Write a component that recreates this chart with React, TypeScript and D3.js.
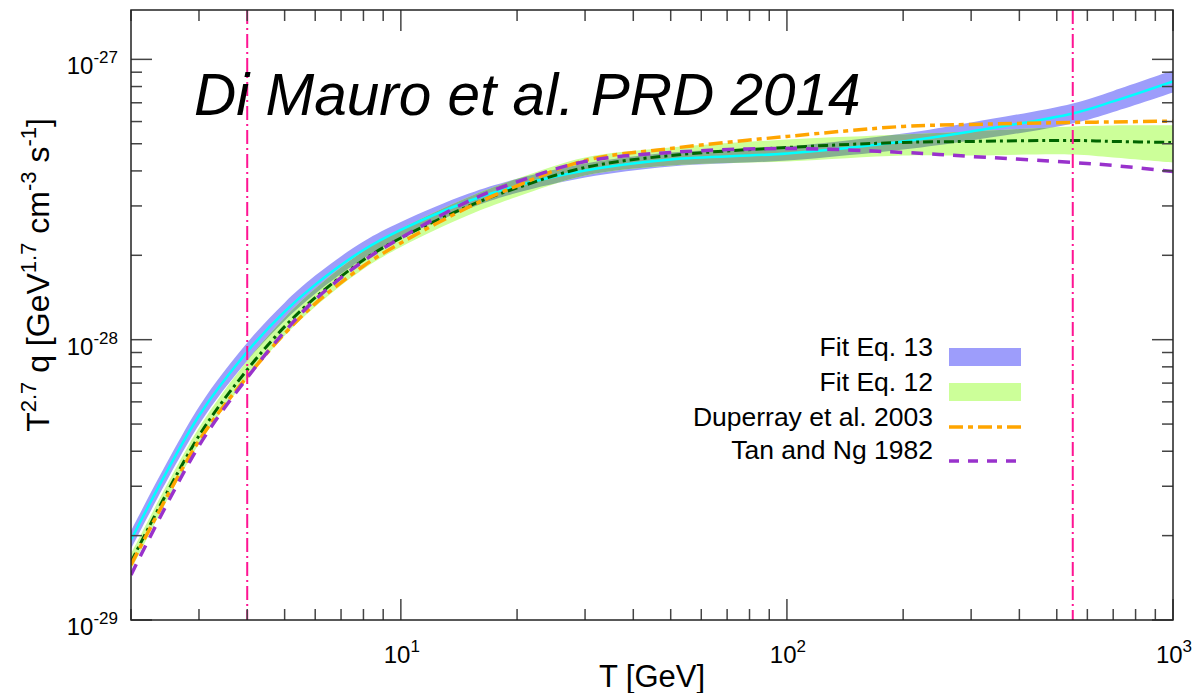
import React from "react";
import * as d3 from "d3";

// Energy grid (GeV)
const T = [2, 3, 4, 5, 6, 8, 10, 15, 20, 30, 50, 100, 200, 300, 550, 700, 1000];
// Values in units of 1e-28 GeV^1.7 cm^-3 s^-1
const UNIT = 1e-28;
const fit13Center = [0.1931, 0.5354, 0.9061, 1.2589, 1.5718, 2.0893, 2.4627, 3.1234, 3.539, 4.0141, 4.394, 4.6162, 5.0951, 5.5318, 6.4143, 7.0795, 8.345];
const fit13Upper = [0.208, 0.5766, 0.9758, 1.3557, 1.6927, 2.2406, 2.6302, 3.3221, 3.7489, 4.2521, 4.6546, 4.8899, 5.4416, 5.9572, 6.964, 7.7181, 9.1353];
const fit13Lower = [0.1793, 0.4972, 0.8414, 1.169, 1.4596, 1.9483, 2.3059, 2.9366, 3.3409, 3.7894, 4.148, 4.3578, 4.7707, 5.1368, 5.908, 6.4938, 7.6231];
const fit12Center = [0.1611, 0.4541, 0.7814, 1.1129, 1.4125, 1.9244, 2.306, 2.9978, 3.4816, 4.1142, 4.541, 4.8496, 5.0535, 5.0951, 5.1372, 5.0951, 5.0535];
const fit12Upper = [0.1721, 0.485, 0.8415, 1.1985, 1.5211, 2.0724, 2.4833, 3.2283, 3.7493, 4.4668, 4.8496, 5.1793, 5.3968, 5.5318, 5.7638, 5.8114, 5.8114];
const fit12Lower = [0.1509, 0.4252, 0.7256, 1.0334, 1.3116, 1.787, 2.1413, 2.7837, 3.233, 3.8521, 4.1825, 4.3221, 4.541, 4.541, 4.5782, 4.4668, 4.2868];
const duperray = [0.1572, 0.4358, 0.7377, 1.0506, 1.3445, 1.8317, 2.2131, 2.9731, 3.539, 4.358, 4.8099, 5.3088, 5.7638, 5.8597, 5.9566, 5.981, 6.0204];
const tanNg = [0.1448, 0.4183, 0.7316, 1.068, 1.3895, 1.9086, 2.306, 3.1234, 3.6577, 4.3221, 4.6546, 4.8099, 4.6546, 4.5039, 4.2868, 4.1825, 3.9811];
const verticalMarks = [4, 550];

const xMajor = [10, 100, 1000];
const xMajorExp = ["1", "2", "3"];
const yMajor = [1e-29, 1e-28, 1e-27];
const yMajorExp = ["-29", "-28", "-27"];

const legendLabels = ["Fit Eq. 13", "Fit Eq. 12", "Duperray et al. 2003", "Tan and Ng 1982"];

const FONT = "'Liberation Sans', Arial, Helvetica, sans-serif";

export default function App() {
  const W = 1195, H = 693;
  const L = 131, R = 1173, TOP = 10, B = 620;
  const x = d3.scaleLog().domain([2, 1000]).range([L, R]);
  const y = d3.scaleLog().domain([1e-29, 1.5e-27]).range([B, TOP]);

  const curve = d3.curveCatmullRom.alpha(0.5);
  const pts = (arr: number[]) => T.map((t, i) => [t, arr[i] * UNIT] as [number, number]);
  const line = d3.line<[number, number]>().x(d => x(d[0])).y(d => y(d[1])).curve(curve);
  const idx = T.map((_, i) => i);
  const band13 = d3.area<number>().x(i => x(T[i])).curve(curve)
    .y0(i => y(fit13Lower[i] * UNIT)).y1(i => y(fit13Upper[i] * UNIT))(idx) || "";
  const band12 = d3.area<number>().x(i => x(T[i])).curve(curve)
    .y0(i => y(fit12Lower[i] * UNIT)).y1(i => y(fit12Upper[i] * UNIT))(idx) || "";

  const xMinor: number[] = [];
  [1, 10, 100].forEach(d => { for (let k = 2; k <= 9; k++) { const v = k * d; if (v >= 2 && v < 1000 && v !== 10 && v !== 100) xMinor.push(v); } });
  const yMinor: number[] = [];
  [1e-29, 1e-28].forEach(d => { for (let k = 2; k <= 9; k++) yMinor.push(k * d); });

  const majLen = 21, minLen = 11;
  const tickColor = "#444";

  return (
    <svg width={W} height={H} style={{ position: "absolute", left: 0, top: 0, background: "#fff" }} fontFamily={FONT}>
      <defs>
        <clipPath id="plotclip"><rect x={L} y={TOP} width={R - L} height={B - TOP} /></clipPath>
        <clipPath id="band13clip"><path d={band13} /></clipPath>
      </defs>
      <rect x={0} y={0} width={W} height={H} fill="#fff" />
      <g clipPath="url(#plotclip)">
        <path d={band13} fill="#9d9dfb" />
        <path d={band12} fill="#ccff99" />
        <g clipPath="url(#band13clip)">
          <path d={band12} fill="#86b190" />
        </g>
        <path d={line(pts(fit13Center)) || ""} fill="none" stroke="#00ffff" strokeWidth={2.5} />
        <path d={line(pts(fit12Center)) || ""} fill="none" stroke="#006400" strokeWidth={3} strokeDasharray="10,4,3,4" />
        <path d={line(pts(duperray)) || ""} fill="none" stroke="#ffa500" strokeWidth={3.5} strokeDasharray="14,5,5,5" />
        <path d={line(pts(tanNg)) || ""} fill="none" stroke="#9932cc" strokeWidth={3.5} strokeDasharray="12,9" />
        {verticalMarks.map(v => (
          <line key={v} x1={x(v)} x2={x(v)} y1={TOP} y2={B} stroke="#ff1493" strokeWidth={2} strokeDasharray="14,4,2,4" />
        ))}
      </g>

      {xMinor.map(v => (
        <g key={"xm" + v} stroke={tickColor} strokeWidth={1.5}>
          <line x1={x(v)} x2={x(v)} y1={B} y2={B - minLen} />
          <line x1={x(v)} x2={x(v)} y1={TOP} y2={TOP + minLen} />
        </g>
      ))}
      {xMajor.map(v => (
        <g key={"xM" + v} stroke={tickColor} strokeWidth={1.5}>
          <line x1={x(v)} x2={x(v)} y1={B} y2={B - majLen} />
          <line x1={x(v)} x2={x(v)} y1={TOP} y2={TOP + majLen} />
        </g>
      ))}
      {yMinor.map(v => (
        <g key={"ym" + v} stroke={tickColor} strokeWidth={1.5}>
          <line x1={L} x2={L + minLen} y1={y(v)} y2={y(v)} />
          <line x1={R} x2={R - minLen} y1={y(v)} y2={y(v)} />
        </g>
      ))}
      {yMajor.map(v => (
        <g key={"yM" + v} stroke={tickColor} strokeWidth={1.5}>
          <line x1={L} x2={L + majLen} y1={y(v)} y2={y(v)} />
          <line x1={R} x2={R - majLen} y1={y(v)} y2={y(v)} />
        </g>
      ))}

      <rect x={L} y={TOP} width={R - L} height={B - TOP} fill="none" stroke="#222" strokeWidth={1.5} />

      {xMajor.map((v, i) => (
        <text key={"xl" + v} x={x(v) + 1} y={663} textAnchor="middle" fontSize={24} fill="#000">
          10<tspan dy={-11} fontSize={17}>{xMajorExp[i]}</tspan>
        </text>
      ))}
      {yMajor.map((v, i) => (
        <text key={"yl" + v} x={118} y={y(v) + 15} textAnchor="end" fontSize={24} fill="#000">
          10<tspan dy={-11} fontSize={17}>{yMajorExp[i]}</tspan>
        </text>
      ))}

      <text x={652} y={687} textAnchor="middle" fontSize={31} fill="#000">T [GeV]</text>
      <text transform="translate(49,275) rotate(-90)" textAnchor="middle" fontSize={32} fill="#000">
        T<tspan dy={-13} fontSize={22}>2.7</tspan><tspan dy={13}> q [GeV</tspan><tspan dy={-13} fontSize={22}>1.7</tspan><tspan dy={13}> cm</tspan><tspan dy={-13} fontSize={22}>-3</tspan><tspan dy={13}> s</tspan><tspan dy={-13} fontSize={22}>-1</tspan><tspan dy={13}>]</tspan>
      </text>

      <text x={194} y={115} fontSize={58.5} fontStyle="italic" fill="#000">Di Mauro et al. PRD 2014</text>

      <g fontSize={26.5} fill="#000" textAnchor="end">
        {legendLabels.map((s, i) => (
          <text key={s} x={933} y={[356, 391, 426, 459][i]}>{s}</text>
        ))}
      </g>
      <rect x={949} y={348} width={72} height={18} fill="#9d9dfb" />
      <rect x={949} y={383} width={72} height={18} fill="#ccff99" />
      <line x1={949} x2={1022} y1={427} y2={427} stroke="#ffa500" strokeWidth={3.5} strokeDasharray="14,5,5,5" />
      <line x1={949} x2={1022} y1={461} y2={461} stroke="#9932cc" strokeWidth={3.5} strokeDasharray="10,9" />
    </svg>
  );
}
